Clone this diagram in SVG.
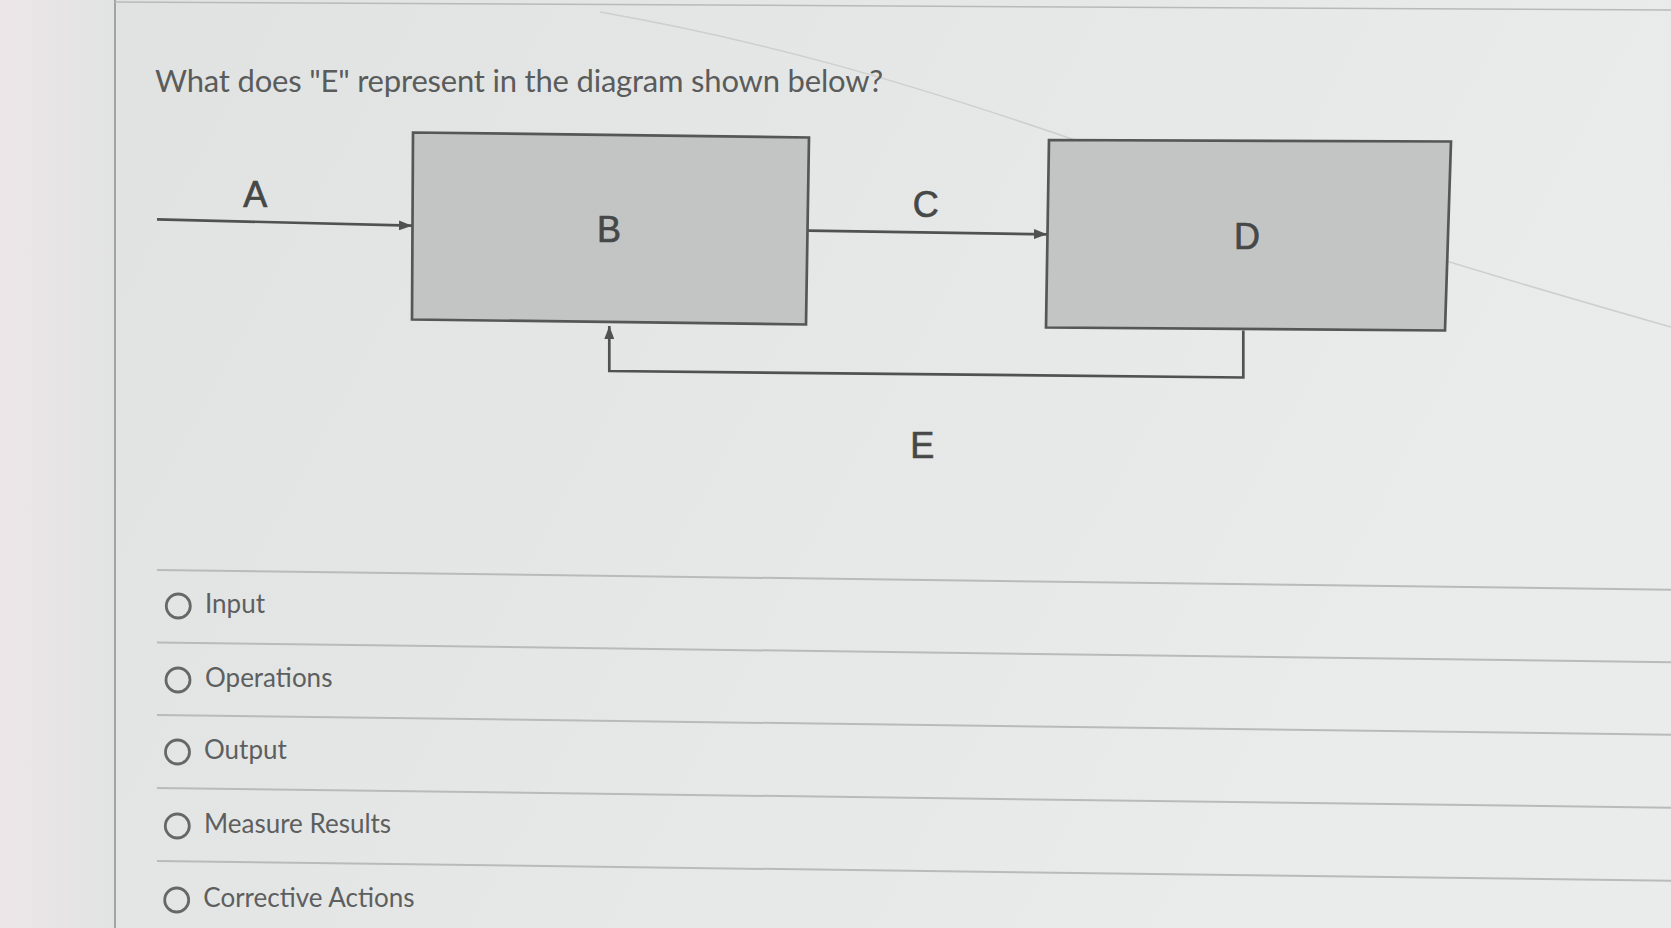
<svg xmlns="http://www.w3.org/2000/svg" width="1671" height="928" viewBox="0 0 1671 928">
  <defs>
    <linearGradient id="bg" x1="0" y1="0" x2="1" y2="0.3">
      <stop offset="0" stop-color="#e0e2e1"/>
      <stop offset="1" stop-color="#eaeceb"/>
    </linearGradient>
    <linearGradient id="strip" x1="0" y1="0" x2="1" y2="0">
      <stop offset="0" stop-color="#ede6e8"/>
      <stop offset="1" stop-color="#e1e3e2"/>
    </linearGradient>
    <marker id="arrow" markerUnits="userSpaceOnUse" markerWidth="13" markerHeight="10" refX="13" refY="5" orient="auto">
      <path d="M0,0 L13,5 L0,10 z" fill="#505252"/>
    </marker>
    <style>
      .box { fill: #c3c5c4; stroke: #555757; stroke-width: 2.7; }
      .lbl { font-family: "Liberation Sans", Arial, sans-serif; font-size: 36px; fill: #464848; stroke: #464848; stroke-width: 0.7; text-anchor: middle; }
      .conn { fill: none; stroke: #505252; stroke-width: 2.7; }
      .sep { stroke: #b9bbba; stroke-width: 2; }
      .radio { fill: none; stroke: #666868; stroke-width: 2.8; }
      .ans { font-family: Lato, "Open Sans", sans-serif; font-size: 26px; fill: #5d5f5f; }
      .title { font-family: Lato, "Open Sans", sans-serif; font-size: 31px; letter-spacing: -0.2px; fill: #5a5c5c; }
    </style>
  </defs>

  <!-- background -->
  <rect x="0" y="0" width="1671" height="928" fill="url(#bg)"/>
  <rect x="0" y="0" width="115" height="928" fill="url(#strip)"/>
  <line x1="115" y1="0" x2="115" y2="928" stroke="#a2a4a4" stroke-width="2"/>
  <line x1="115" y1="2" x2="1671" y2="10" stroke="#b8bab9" stroke-width="1.5"/>
  <path d="M600 12 C 760 40, 900 80, 1072 139 S 1400 250, 1671 327" fill="none" stroke="#cdcfce" stroke-width="1.5"/>

  <!-- title -->
  <text class="title" x="155" y="92">What does "E" represent in the diagram shown below?</text>

  <!-- connectors -->
  <g id="connectors">
    <line class="conn" x1="157" y1="219.3" x2="412" y2="225.7" marker-end="url(#arrow)"/>
    <line class="conn" x1="808" y1="230.7" x2="1047" y2="234.3" marker-end="url(#arrow)"/>
    <polyline class="conn" points="1243.3,330.5 1243.3,377.5 609.3,371 609.3,326" marker-end="url(#arrow)"/>
  </g>

  <!-- nodes -->
  <g id="node-B">
    <polygon class="box" points="413,132.5 809,137.5 806,324.5 412,319.5"/>
    <text class="lbl" x="609" y="241.7">B</text>
  </g>
  <g id="node-D">
    <polygon class="box" points="1049,140 1451,141.5 1445,330.5 1046,327.5"/>
    <text class="lbl" x="1247" y="249">D</text>
  </g>

  <!-- connector labels -->
  <g id="labels">
    <text class="lbl" x="255.3" y="206.7">A</text>
    <text class="lbl" x="925.8" y="216.7">C</text>
    <text class="lbl" x="922.2" y="458">E</text>
  </g>

  <!-- answer list -->
  <g id="answers">
    <line class="sep" x1="157" y1="570" x2="1671" y2="589.7"/>
    <line class="sep" x1="157" y1="642.5" x2="1671" y2="662.2"/>
    <line class="sep" x1="157" y1="715" x2="1671" y2="734.7"/>
    <line class="sep" x1="157" y1="788" x2="1671" y2="807.7"/>
    <line class="sep" x1="157" y1="861" x2="1671" y2="880.7"/>

    <g id="opt-input">
      <circle class="radio" cx="178.3" cy="606" r="12"/>
      <text class="ans" x="205" y="613.3">Input</text>
    </g>
    <g id="opt-operations">
      <circle class="radio" cx="178" cy="680" r="12"/>
      <text class="ans" x="205" y="687.3">Operations</text>
    </g>
    <g id="opt-output">
      <circle class="radio" cx="177.5" cy="752" r="12"/>
      <text class="ans" x="204" y="759.3">Output</text>
    </g>
    <g id="opt-measure">
      <circle class="radio" cx="177.3" cy="826" r="12"/>
      <text class="ans" x="204" y="833.3">Measure Results</text>
    </g>
    <g id="opt-corrective">
      <circle class="radio" cx="176.7" cy="900" r="12"/>
      <text class="ans" x="203.3" y="907.3">Corrective Actions</text>
    </g>
  </g>
</svg>
